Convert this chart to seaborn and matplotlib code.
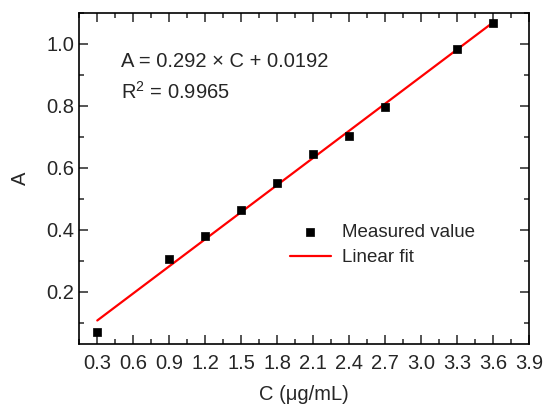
import numpy as np
import pandas as pd
import seaborn as sns
import matplotlib.pyplot as plt
from matplotlib.ticker import MultipleLocator

conc = [0.3, 0.9, 1.2, 1.5, 1.8, 2.1, 2.4, 2.7, 3.3, 3.6]
absorb = [0.071, 0.304, 0.381, 0.464, 0.550, 0.646, 0.703, 0.795, 0.984, 1.066]
slope = 0.292
intercept = 0.0192
fit_x = [0.3, 3.6]
x_ticks = [0.3, 0.6, 0.9, 1.2, 1.5, 1.8, 2.1, 2.4, 2.7, 3.0, 3.3, 3.6, 3.9]
y_ticks = [0.2, 0.4, 0.6, 0.8, 1.0]

data = pd.DataFrame({'C': conc, 'A': absorb})
fit = pd.DataFrame({'C': fit_x, 'A': [slope * c + intercept for c in fit_x]})

sns.set_style('ticks')
plt.rcParams['font.family'] = ['Liberation Sans', 'DejaVu Sans']
plt.rcParams['mathtext.fontset'] = 'custom'
plt.rcParams['mathtext.rm'] = 'Liberation Sans'

fig, ax = plt.subplots(figsize=(5.43, 4.05), dpi=100)
sns.lineplot(data=fit, x='C', y='A', color='red', lw=1.6, ax=ax, label='Linear fit', zorder=2)
sns.scatterplot(data=data, x='C', y='A', marker='s', color='black', s=40,
                edgecolor='black', ax=ax, label='Measured value', zorder=3)

ax.set_xlim(0.15, 3.9)
ax.set_ylim(0.03, 1.1)
ax.set_xticks(x_ticks)
ax.set_xticklabels([f'{t:.1f}' for t in x_ticks])
ax.set_yticks(y_ticks)
ax.set_yticklabels([f'{t:.1f}' for t in y_ticks])
ax.xaxis.set_minor_locator(MultipleLocator(0.15))
ax.yaxis.set_minor_locator(MultipleLocator(0.1))
ax.tick_params(which='both', direction='in', top=True, right=True, labelsize=14.5, width=1.1)
ax.tick_params(axis='x', which='major', pad=7)
ax.tick_params(which='major', length=6.5)
ax.tick_params(which='minor', length=3.5)
for s in ax.spines.values():
    s.set_linewidth(1.2)
    s.set_color('black')

ax.set_xlabel('C (μg/mL)', fontsize=14.5, labelpad=9)
ax.set_ylabel('A', fontsize=14.5, labelpad=12)

ax.text(0.093, 0.852, 'A = 0.292 × C + 0.0192', transform=ax.transAxes, fontsize=14.5, va='center')
ax.text(0.093, 0.762, 'R$^2$ = 0.9965', transform=ax.transAxes, fontsize=14.5, va='center')

h, l = ax.get_legend_handles_labels()
ax.legend(h[::-1], l[::-1], loc='upper left', bbox_to_anchor=(0.43, 0.415), frameon=False,
          fontsize=13.5, handlelength=2.2, handletextpad=0.6, labelspacing=0.45)

fig.subplots_adjust(left=0.146, right=0.975, top=0.968, bottom=0.15)
fig.savefig('out.png', dpi=100)
